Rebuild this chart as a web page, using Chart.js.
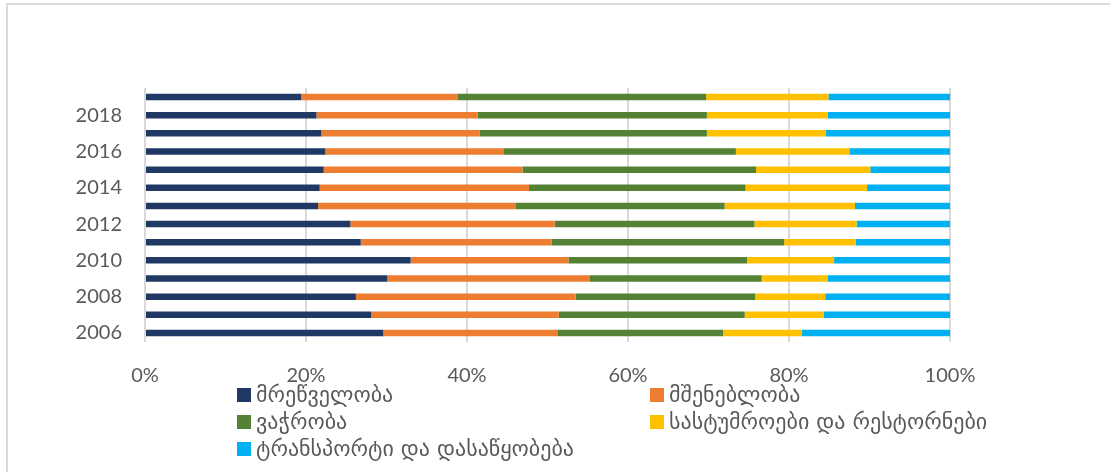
<!DOCTYPE html>
<html>
<head>
<meta charset="utf-8">
<script src="https://cdn.jsdelivr.net/npm/chart.js@4/dist/chart.umd.min.js"></script>
<style>
  html, body { margin: 0; padding: 0; background: #fff; }
  #wrap { position: relative; width: 1110px; height: 472px; overflow: hidden; }
  #frame { position: absolute; left: 6px; top: 3px; width: 1200px; height: 600px;
           border: 2px solid #dadada; box-sizing: border-box; }
  #chartBox { position: absolute; left: 0; top: 0; width: 1110px; height: 472px; }
  #legend { position: absolute; left: 237px; top: 381px; width: 860px;
            display: grid; grid-template-columns: 413px 440px; row-gap: 0px;
            font-family: "DejaVu Sans", sans-serif; font-size: 22px; color: #595959; }
  #legend .item { display: flex; align-items: center; height: 27px; white-space: nowrap; }
  #legend .box { width: 14px; height: 14px; margin-right: 5px; flex: none; }
</style>
</head>
<body>
<div id="wrap">
  <div id="frame"></div>
  <div id="chartBox"><canvas id="chartSectors"></canvas></div>
  <div id="legend"></div>
</div>
<script>
// years bottom -> top
var years = ['2006','2007','2008','2009','2010','2011','2012','2013','2014','2015','2016','2017','2018','2019'];

var seriesNames = [
    'მრეწველობა',
    'მშენებლობა',
    'ვაჭრობა',
    'სასტუმროები და რესტორნები',
    'ტრანსპორტი და დასაწყობება'
];
var seriesColors = ['#203864','#ED7D31','#548235','#FFC000','#00B0F0'];

var industry     = [29.6, 28.1, 26.2, 30.1, 33.0, 26.8, 25.5, 21.5, 21.7, 22.2, 22.4, 21.9, 21.3, 19.4];
var construction = [21.7, 23.3, 27.3, 25.1, 19.6, 23.7, 25.4, 24.5, 26.0, 24.7, 22.1, 19.7, 20.0, 19.4];
var trade        = [20.5, 23.1, 22.3, 21.4, 22.2, 28.9, 24.8, 26.0, 26.9, 29.0, 28.9, 28.2, 28.5, 30.9];
var hotels       = [ 9.8,  9.8,  8.7,  8.2, 10.8,  8.9, 12.7, 16.2, 15.1, 14.2, 14.1, 14.8, 15.0, 15.2];
var transport    = [18.4, 15.7, 15.5, 15.2, 14.4, 11.7, 11.6, 11.8, 10.3,  9.9, 12.5, 15.4, 15.2, 15.1];

var xTicks = [0, 20, 40, 60, 80, 100];

var seriesValues = [industry, construction, trade, hotels, transport];
var datasets = seriesNames.map(function(name, i) {
    return {
        label: name,
        data: seriesValues[i],
        backgroundColor: seriesColors[i],
        borderWidth: 0,
        barPercentage: 0.36,
        categoryPercentage: 1.0
    };
});

var tickFont = { family: 'Lato, "Open Sans", sans-serif', size: 20 };

var ctx = document.getElementById('chartSectors');
var chartSectors = new Chart(ctx, {
    type: 'bar',
    data: { labels: years, datasets: datasets },
    options: {
        indexAxis: 'y',
        responsive: true,
        maintainAspectRatio: false,
        animation: false,
        layout: { padding: { left: 40, right: 160, top: 88, bottom: 80 } },
        plugins: {
            legend: { display: false },
            tooltip: { enabled: false }
        },
        scales: {
            x: {
                stacked: true,
                min: 0,
                max: 100,
                afterBuildTicks: function(axis) {
                    axis.ticks = xTicks.map(function(v) { return { value: v }; });
                },
                afterFit: function(axis) { axis.height = 50; },
                grid: { color: '#d9d9d9', lineWidth: 2, drawTicks: false },
                border: { display: false },
                ticks: {
                    padding: 22,
                    color: '#595959',
                    font: tickFont,
                    callback: function(v) { return v + '%'; }
                }
            },
            y: {
                stacked: true,
                reverse: true,
                afterFit: function(axis) { axis.width = 105; },
                grid: { display: false, drawTicks: false },
                border: { display: false },
                ticks: {
                    autoSkip: false,
                    padding: 23,
                    color: '#595959',
                    font: tickFont,
                    callback: function(v, i) {
                        var y = years[i];
                        return (parseInt(y, 10) % 2 === 0) ? y : '';
                    }
                }
            }
        }
    }
});

// legend in two columns, built from the chart datasets
var legendEl = document.getElementById('legend');
chartSectors.data.datasets.forEach(function(ds) {
    var item = document.createElement('div');
    item.className = 'item';
    item.innerHTML = '<span class="box" style="background:' + ds.backgroundColor + '"></span><span>' + ds.label + '</span>';
    legendEl.appendChild(item);
});
</script>
</body>
</html>
